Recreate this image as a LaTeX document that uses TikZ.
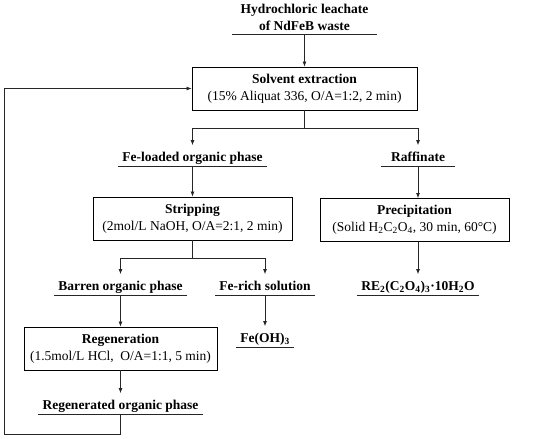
\documentclass[tikz,border=0pt]{standalone}
\usepackage{fontspec}
\setmainfont{Liberation Serif}
\usetikzlibrary{arrows.meta, positioning, calc}
\newcommand{\diafont}{\fontsize{13.5}{17}\selectfont}
\tikzset{
  box/.style={draw, line width=0.9pt, align=center, minimum height=43pt, inner sep=2pt, font=\diafont},
  lbl/.style={font=\diafont\bfseries, text height=16pt, text depth=3.5pt, inner ysep=0.5pt, inner xsep=4pt, anchor=south},
  arr/.style={-{Latex[length=5pt,width=4pt]}, line width=0.7pt, draw=black!85},
  ln/.style={line width=0.7pt, draw=black!85},
  uline/.style={line width=0.9pt, draw=black!85},
}
\begin{document}
\begin{tikzpicture}[x=1pt, y=-1pt]
  \useasboundingbox (0,0) rectangle (550,439);
  % feed
  \node[font=\diafont\bfseries, align=center, anchor=south, text depth=0pt, inner ysep=3.5pt, minimum width=145pt] (leach) at (304.5,34) {Hydrochloric leachate\\of NdFeB waste};
  % process boxes
  \node[box, minimum width=225pt] (solvent) at (304.5,88.5) {\textbf{Solvent extraction}\\(15\% Aliquat 336, O/A=1:2, 2 min)};
  \node[box, minimum width=199pt] (strip) at (192.5,218.5) {\textbf{Stripping}\\(2mol/L NaOH, O/A=2:1, 2 min)};
  \node[box, minimum width=189pt] (precip) at (414.5,220) {\textbf{Precipitation}\\(Solid H\textsubscript{2}C\textsubscript{2}O\textsubscript{4}, 30 min, 60°C)};
  \node[box, minimum width=193pt] (regen) at (120.5,348.5) {\textbf{Regeneration}\\(1.5mol/L HCl,\ \ O/A=1:1, 5 min)};
  % streams
  \node[lbl] (feorg) at (192.5,166) {Fe-loaded organic phase};
  \node[lbl, minimum width=73pt] (raff) at (418,166) {Raffinate};
  \node[lbl] (barren) at (120.5,295) {Barren organic phase};
  \node[lbl] (ferich) at (265,295) {Fe-rich solution};
  \node[lbl] (feoh) at (265,347) {Fe(OH)\textsubscript{3}};
  \node[lbl] (reox) at (418,295) {RE\textsubscript{2}(C\textsubscript{2}O\textsubscript{4})\textsubscript{3}·10H\textsubscript{2}O};
  \node[lbl] (regorg) at (120.5,414) {Regenerated organic phase};
  \foreach \n in {leach, feorg, raff, barren, ferich, feoh, reox, regorg}
    \draw[uline] (\n.south west) -- (\n.south east);
  % connectors
  \coordinate (split1) at ($(solvent.south)+(0,18)$);
  \coordinate (split2) at ($(strip.south)+(0,18)$);
  \coordinate (loopc) at (4,434);
  \draw[arr] (leach.south) -- (solvent.north);
  \draw[ln] (solvent.south) -- (split1);
  \draw[arr] (split1) -| (feorg.north);
  \draw[arr] (split1) -| (raff.north);
  \draw[arr] (feorg.south) -- (strip.north);
  \draw[arr] (raff.south) -- (raff.south |- precip.north);
  \draw[arr] (raff.south |- precip.south) -- (reox.north);
  \draw[ln] (strip.south) -- (split2);
  \draw[arr] (split2) -| (barren.north);
  \draw[arr] (split2) -| (ferich.north);
  \draw[arr] (ferich.south) -- (feoh.north);
  \draw[arr] (barren.south) -- (regen.north);
  \draw[arr] (regen.south) -- (regorg.north);
  \draw[arr] (regorg.south) |- (loopc) |- (solvent.west);
\end{tikzpicture}
\end{document}
